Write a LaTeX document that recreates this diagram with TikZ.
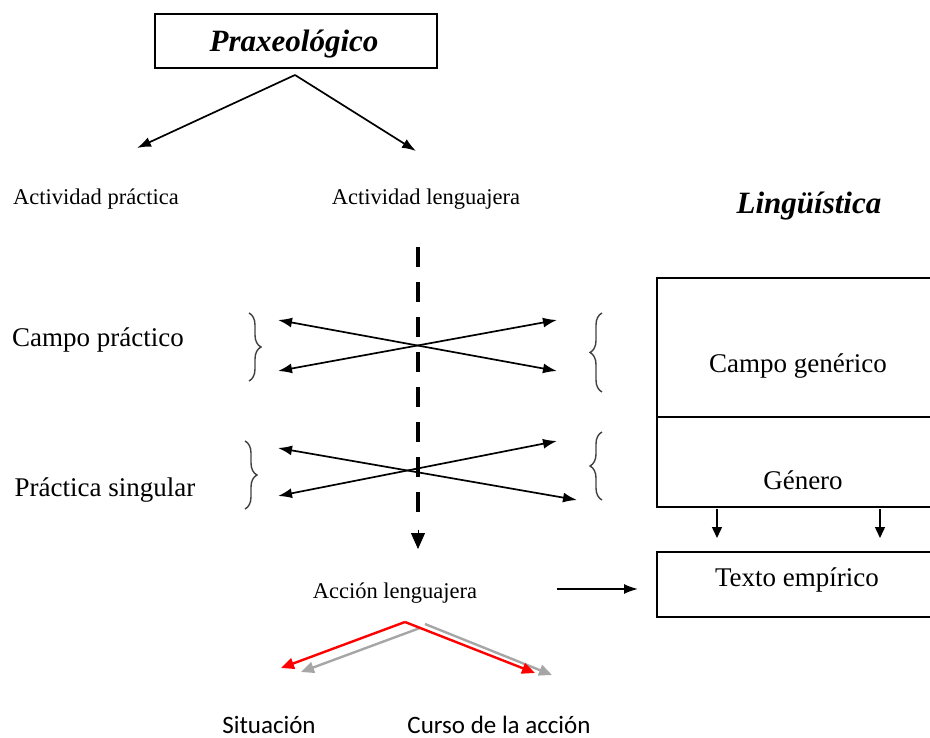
\documentclass[tikz,border=0pt]{standalone}
\usepackage{fontspec}
\setmainfont{Liberation Serif}
\newfontfamily\calibrilike{Carlito}
\usetikzlibrary{arrows.meta,decorations.pathreplacing}

\begin{document}
\begin{tikzpicture}[x=1pt,y=-1pt,
  every node/.style={inner sep=0pt,outer sep=0pt},
  title/.style={font=\fontsize{31}{34}\selectfont\bfseries\itshape,anchor=base},
  big/.style={font=\fontsize{27}{30}\selectfont,anchor=base},
  small/.style={font=\fontsize{22.5}{25}\selectfont,anchor=base},
  sanslabel/.style={font=\fontsize{25}{28}\selectfont\calibrilike,anchor=base},
  frame/.style={draw,line width=1.5pt},
  link/.style={line width=1.7pt,-{Latex[length=14pt,width=10pt]}},
  both/.style={line width=1.7pt,{Latex[length=14pt,width=10pt]}-{Latex[length=14pt,width=10pt]}},
  curly/.style={draw=black!75,line width=1.4pt,decorate,decoration={brace,amplitude=12pt}},
  redarrow/.style={draw=red,line width=2.4pt,-{Triangle[length=13pt,width=11pt]}},
  grayarrow/.style={draw=black!35,line width=2.4pt,-{Triangle[length=13pt,width=11pt]}}
]
\useasboundingbox (0,0) rectangle (930,738);

% top box
\node[frame,minimum width=282pt,minimum height=54pt] (praxbox) at (296,41) {};
\node[title] (prax) at (294,52) {Praxeológico};

% two activities
\coordinate (apex) at (295,75);
\coordinate (tipl) at (137,148);
\coordinate (tipr) at (416,151);
\draw[link] (apex) -- (tipl);
\draw[link] (apex) -- (tipr);
\node[small] (actprac) at (96,205) {Actividad práctica};
\node[small] (actleng) at (426,205) {Actividad lenguajera};

\node[title] (ling) at (809,214) {Lingüística};

% left labels
\node[big] (campoprac) at (98,347) {Campo práctico};
\node[big] (pracsing) at (105,496) {Práctica singular};

% braces
\draw[curly] (249,313) -- (249,381);
\draw[curly] (245,441) -- (245,509);
\draw[curly] (602,392) -- (602,313);
\draw[curly] (602,500) -- (602,432);

% dashed vertical axis
\coordinate (dtop) at (418,247);
\coordinate (dend) at (418,517);
\coordinate (dtipa) at (418,530);
\coordinate (dtipb) at (418,549);
\draw[line width=4pt,dash pattern=on 20pt off 15pt] (dtop) -- (dend);
\draw[line width=1pt,-{Triangle[length=16pt,width=14pt]}] (dtipa) -- (dtipb);

% crossing arrows, upper pair
\coordinate (ul1) at (278,320);
\coordinate (ur1) at (557,371);
\coordinate (ul2) at (278,371);
\coordinate (ur2) at (557,320);
\draw[both] (ul1) -- (ur1);
\draw[both] (ul2) -- (ur2);

% crossing arrows, lower pair
\coordinate (ll1) at (278,448);
\coordinate (lr1) at (577,500);
\coordinate (ll2) at (278,496);
\coordinate (lr2) at (557,441);
\draw[both] (ll1) -- (lr1);
\draw[both] (ll2) -- (lr2);

% linguistic boxes
\draw[frame] (934,278) -- (657,278) -- (657,507) -- (934,507);
\draw[frame] (657,417) -- (934,417);
\node[big] (campogen) at (798,372) {Campo genérico};
\node[big] (genero) at (803,489) {Género};
\draw[frame] (934,552) -- (657,552) -- (657,617) -- (934,617);
\node[big] (texto) at (797,586) {Texto empírico};

% arrows from genre to text
\coordinate (g1a) at (717,509);
\coordinate (g1b) at (717,538);
\coordinate (g2a) at (880,509);
\coordinate (g2b) at (880,538);
\draw[line width=1.4pt,-{Triangle[length=11pt,width=10pt]}] (g1a) -- (g1b);
\draw[line width=1.4pt,-{Triangle[length=11pt,width=10pt]}] (g2a) -- (g2b);

% language action
\node[small] (accion) at (395,598) {Acción lenguajera};
\coordinate (acout) at (557,589);
\coordinate (acin) at (638,589);
\draw[link] (acout) -- (acin);

% situation and course of action
\coordinate (gsl) at (420,628);
\coordinate (gtl) at (301,672);
\coordinate (gsr) at (425,624);
\coordinate (gtr) at (552,675);
\draw[grayarrow] (gsl) -- (gtl);
\draw[grayarrow] (gsr) -- (gtr);
\coordinate (rs) at (405,622);
\coordinate (rtl) at (281,668);
\coordinate (rtr) at (535,673);
\draw[redarrow] (rs) -- (rtl);
\draw[redarrow] (rs) -- (rtr);

\node[sanslabel] (situ) at (269,733) {Situación};
\node[sanslabel] (curso) at (499,733) {Curso de la acción};
\end{tikzpicture}
\end{document}
